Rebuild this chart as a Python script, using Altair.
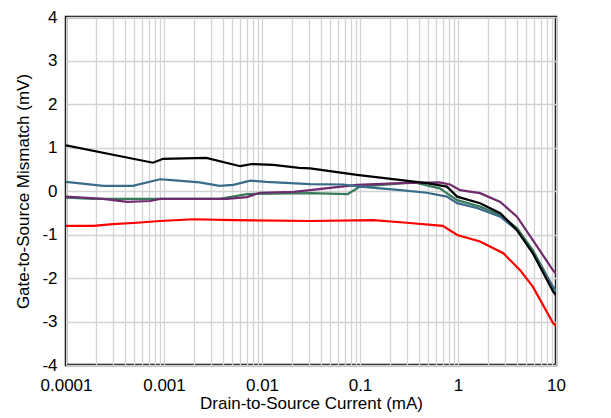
import altair as alt
import pandas as pd

black_x = [0.0001, 0.00077, 0.00098, 0.0027, 0.006, 0.0079, 0.013, 0.024, 0.031, 0.093, 0.48, 0.77, 0.98, 1.68, 2.7, 4.0, 5.8, 9.3, 10]
black_y = [1.05, 0.65, 0.74, 0.76, 0.57, 0.62, 0.6, 0.53, 0.52, 0.37, 0.18, 0.1, -0.13, -0.28, -0.51, -0.9, -1.43, -2.3, -2.4]

blue_x = [0.0001, 0.00024, 0.00048, 0.00091, 0.0012, 0.0023, 0.0037, 0.0051, 0.0076, 0.011, 0.031, 0.067, 0.1, 0.26, 0.48, 0.77, 0.98, 1.56, 2.7, 4.0, 5.8, 9.3, 10]
blue_y = [0.21, 0.12, 0.12, 0.27, 0.25, 0.2, 0.12, 0.14, 0.24, 0.21, 0.16, 0.15, 0.1, 0.02, -0.04, -0.13, -0.28, -0.39, -0.59, -0.9, -1.43, -2.2, -2.3]

purple_x = [0.0001, 0.00024, 0.00042, 0.00072, 0.00091, 0.0044, 0.007, 0.0095, 0.021, 0.031, 0.093, 0.26, 0.65, 0.83, 1.05, 1.68, 2.7, 4.0, 5.8, 9.3, 10]
purple_y = [-0.13, -0.18, -0.25, -0.23, -0.18, -0.18, -0.14, -0.04, -0.02, 0.02, 0.14, 0.18, 0.2, 0.15, 0.02, -0.05, -0.25, -0.59, -1.13, -1.82, -1.9]

green_x = [0.0001, 0.00019, 0.0037, 0.007, 0.031, 0.075, 0.1, 0.35, 0.65, 0.98, 1.68, 2.7, 4.0, 5.8, 9.3, 10]
green_y = [-0.15, -0.18, -0.18, -0.07, -0.05, -0.07, 0.1, 0.2, 0.06, -0.21, -0.36, -0.55, -0.85, -1.36, -2.2, -2.3]

red_x = [0.0001, 0.00019, 0.0003, 0.00053, 0.00091, 0.002, 0.0051, 0.031, 0.136, 0.3, 0.7, 0.98, 1.68, 2.9, 4.3, 5.8, 9.3, 10]
red_y = [-0.8, -0.8, -0.76, -0.73, -0.69, -0.65, -0.67, -0.69, -0.67, -0.73, -0.8, -1.01, -1.16, -1.43, -1.82, -2.2, -3.03, -3.1]

series = [
    ("red", red_x, red_y, "#FF0000"),
    ("green", green_x, green_y, "#3A7A5C"),
    ("purple", purple_x, purple_y, "#6E2C6E"),
    ("blue", blue_x, blue_y, "#3A6B8A"),
    ("black", black_x, black_y, "#000000"),
]

x_ticks = []
for d in [0.0001, 0.001, 0.01, 0.1, 1]:
    for m in range(1, 10):
        x_ticks.append(round(d * m, 6))
x_ticks.append(10)

y_ticks = [-4, -3, -2, -1, 0, 1, 2, 3, 4]

rows = []
for i, (name, xs, ys, col) in enumerate(series):
    for j, (xv, yv) in enumerate(zip(xs, ys)):
        rows.append({"s": name, "order": i, "idx": j, "x": xv, "y": yv})
df = pd.DataFrame(rows)

lines = alt.Chart(df).mark_line(strokeWidth=2.2, clip=True).encode(
    x=alt.X("x:Q", scale=alt.Scale(type="log", domain=[0.0001, 10], nice=False),
            axis=alt.Axis(values=x_ticks, title="Drain-to-Source Current (mA)", format="~g",
                          labelExpr="abs(log(datum.value)/LN10 - round(log(datum.value)/LN10)) < 0.000001 ? datum.label : ''",
                          grid=True, ticks=False, labelPadding=12, titlePadding=2,
                          labelFlush=False, labelOverlap=False)),
    y=alt.Y("y:Q", scale=alt.Scale(domain=[-4, 4], nice=False),
            axis=alt.Axis(values=y_ticks, title="Gate-to-Source Mismatch (mV)", grid=True,
                          ticks=False, labelPadding=9, titlePadding=9,
                          labelExpr="replace(datum.label, '\u2212', '-')",
                          labelFlush=False, labelOverlap=False)),
    color=alt.Color("s:N", scale=alt.Scale(domain=[s[0] for s in series], range=[s[3] for s in series]), legend=None),
    detail="s:N",
    order="idx:Q",
)

chart = lines.properties(
    width=490, height=348,
    autosize=alt.AutoSizeParams(type="none"),
    padding={"left": 58, "top": 9, "right": 40, "bottom": 50},
).configure_view(
    stroke="#000000", strokeWidth=2.5
).configure_axis(
    gridColor="#D3D3D3", gridWidth=1.3, domain=False,
    labelFont="Liberation Sans", labelFontSize=17, labelColor="#000000",
    titleFont="Liberation Sans", titleFontSize=17, titleFontWeight="normal", titleColor="#000000",
)

chart.save("out.html", embed_options={"renderer": "svg", "actions": False})
